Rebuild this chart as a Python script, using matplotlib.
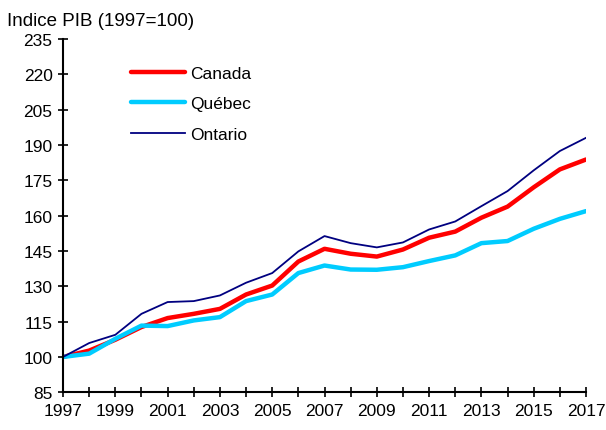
import matplotlib.pyplot as plt

plt.rcParams['font.family'] = ['Liberation Sans', 'DejaVu Sans']

annees = list(range(1997, 2018))
canada = [100, 102.7, 107.3, 112.7, 116.5, 118.3, 120.4, 126.5, 130.3, 140.5, 145.9,
          143.8, 142.6, 145.6, 150.6, 153.2, 159.1, 163.8, 172.0, 179.6, 183.8]
quebec = [100, 101.4, 107.7, 113.3, 113.1, 115.5, 116.9, 123.7, 126.5, 135.6, 138.8,
          137.1, 137.0, 138.1, 140.7, 143.1, 148.3, 149.2, 154.4, 158.6, 161.9]
ontario = [100, 105.9, 109.4, 118.3, 123.3, 123.7, 126.1, 131.5, 135.6, 144.8, 151.3,
           148.3, 146.5, 148.6, 154.1, 157.5, 164.0, 170.4, 179.2, 187.4, 193.0]

fig = plt.figure(figsize=(6.06, 4.31), dpi=100)
ax = fig.add_axes([0.104, 0.0875, 0.863, 0.82])

ax.plot(annees, canada, color='#FF0000', lw=3.2, label='Canada', solid_capstyle='round')
ax.plot(annees, quebec, color='#00CCFF', lw=3.2, label='Québec', solid_capstyle='round')
ax.plot(annees, ontario, color='#000080', lw=1.3, label='Ontario')

ax.set_xlim(1997, 2017)
ax.set_ylim(85, 235)
ax.set_xticks(range(1997, 2018))
ax.set_xticklabels([str(a) if (a - 1997) % 2 == 0 else '' for a in range(1997, 2018)])
ax.set_yticks(range(85, 236, 15))

for s in ['top', 'right']:
    ax.spines[s].set_visible(False)
for s in ['left', 'bottom']:
    ax.spines[s].set_linewidth(1.5)
ax.tick_params(axis='both', direction='inout', length=7, width=1.2, labelsize=12.5, pad=4)

leg = ax.legend(loc='upper left', bbox_to_anchor=(0.117, 0.944), frameon=False, fontsize=12.5,
                handlelength=3.1, handletextpad=0.3, labelspacing=0.88, borderaxespad=0)

fig.text(0.012, 0.97, 'Indice PIB (1997=100)', fontsize=13.5, va='top', ha='left')

fig.savefig('out.png', dpi=100)
